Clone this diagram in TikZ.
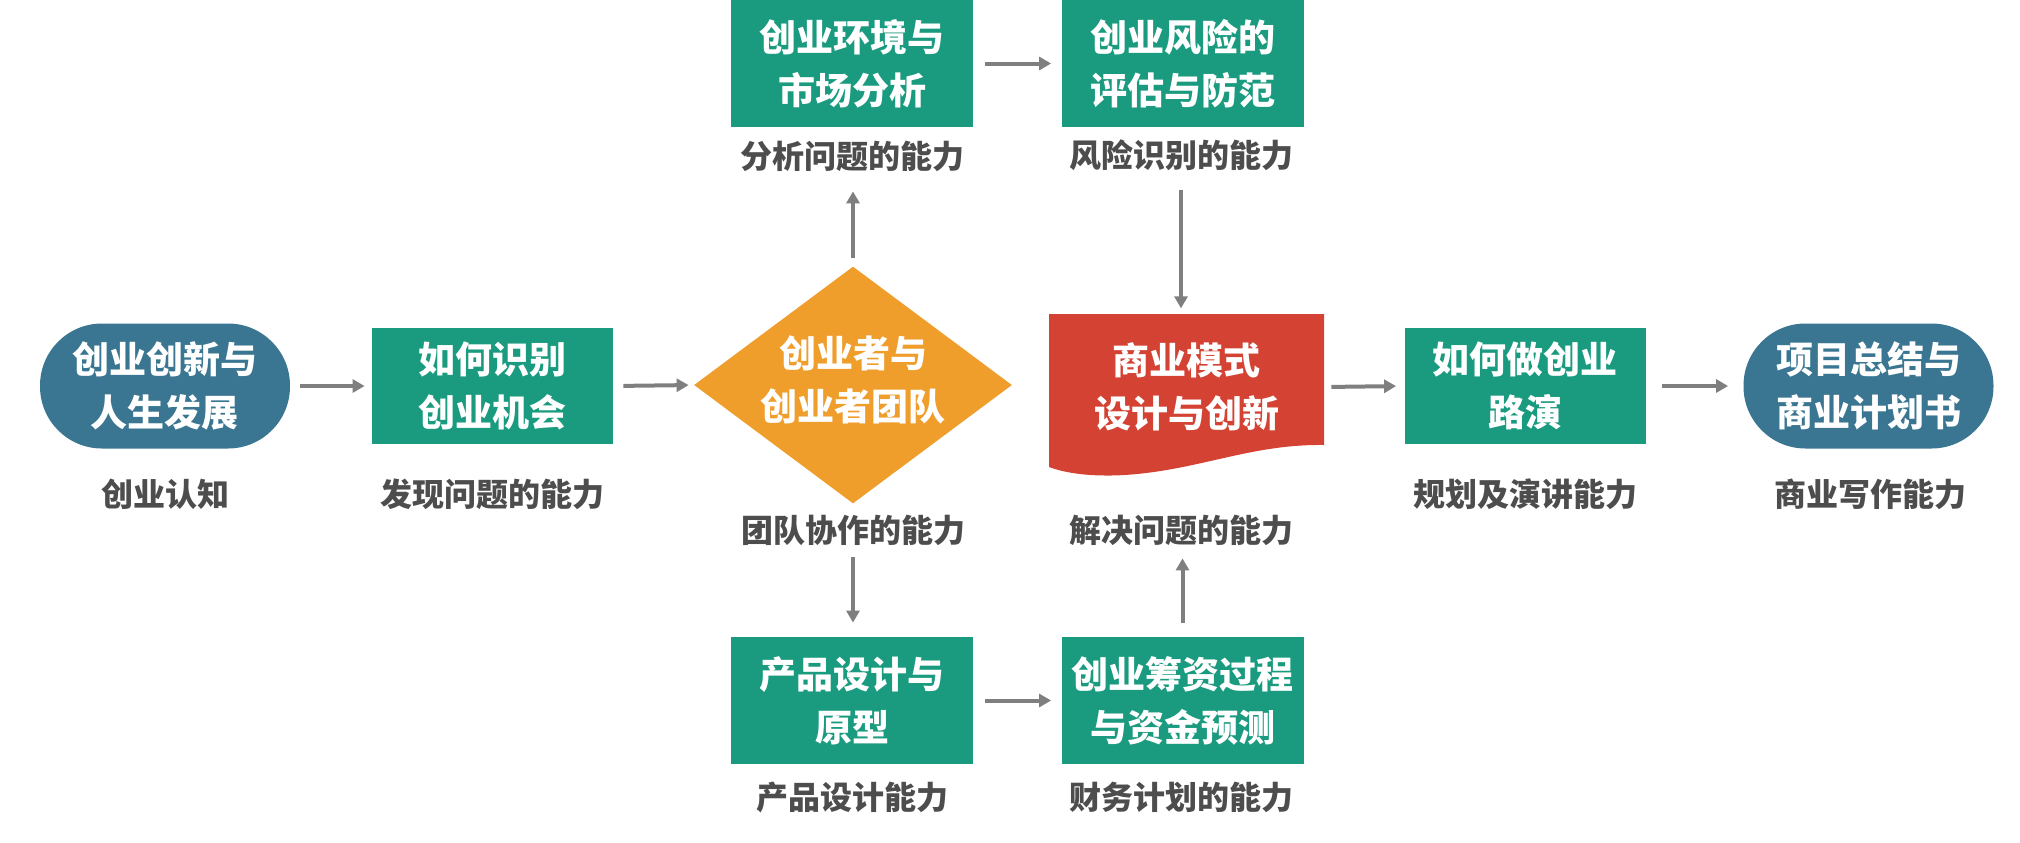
\documentclass[tikz,border=0pt]{standalone}
\usepackage{fontspec}
\setmainfont{Noto Sans CJK SC}
\usetikzlibrary{shapes.geometric,arrows.meta}
\definecolor{tealc}{HTML}{1A9B7F}
\definecolor{bluec}{HTML}{3A7691}
\definecolor{orangec}{HTML}{EF9E2C}
\definecolor{redc}{HTML}{D44234}
\definecolor{graytxt}{HTML}{4D4D4D}
\definecolor{arrowc}{HTML}{7F7F7F}
\begin{document}
\begin{tikzpicture}[x=0.5pt,y=-0.5pt,
 boxt/.style={text=white,font=\bfseries\fontsize{18.5pt}{26.5pt}\selectfont,align=center,inner sep=0pt},
 gbox/.style={boxt,fill=tealc,minimum width=121pt,minimum height=63.5pt},
 mbox/.style={boxt,fill=tealc,minimum width=120.5pt,minimum height=58pt},
 pill/.style={boxt,fill=bluec,minimum width=125pt,minimum height=62.5pt,rounded corners=31pt},
 lab/.style={text=graytxt,font=\bfseries\fontsize{16pt}{19pt}\selectfont,inner sep=0pt,text height=12.8pt,text depth=3.2pt},
 arr/.style={draw=arrowc,line width=2pt,-{Triangle[length=6pt,width=6.5pt]}},
]
\useasboundingbox (0,0) rectangle (2020,842);
% shapes
\node[pill] (p1) at (165,386) {创业创新与\\人生发展};
\node[mbox] (b1) at (492.5,386) {如何识别\\创业机会};
\node[diamond,fill=orangec,inner sep=0pt,minimum width=159pt,minimum height=118.5pt] (dia) at (853,385) {};
\node[boxt] (diat) at (853,380) {创业者与\\创业者团队};
\node[gbox] (t1) at (852,63.5) {创业环境与\\市场分析};
\node[gbox] (t2) at (1182.5,63.5) {创业风险的\\评估与防范};
\fill[redc] (1049,314) -- (1324,314) -- (1324,445) .. controls (1250,444) and (1200,470) .. (1125,475) .. controls (1090,477) and (1065,473) .. (1049,467) -- cycle;
\node[boxt,minimum width=137.5pt] (bm) at (1186.5,387) {商业模式\\设计与创新};
\node[mbox] (b4) at (1525,386) {如何做创业\\路演};
\node[pill] (p2) at (1868.5,386) {项目总结与\\商业计划书};
\node[gbox] (u1) at (852,700.5) {产品设计与\\原型};
\node[gbox] (u2) at (1182.5,700.5) {创业筹资过程\\与资金预测};
% labels
\node[lab] (l1) at (165,497) {创业认知};
\node[lab] (l2) at (492,497) {发现问题的能力};
\node[lab] (l3) at (852,159) {分析问题的能力};
\node[lab] (l4) at (1181,158) {风险识别的能力};
\node[lab] (l5) at (853,533) {团队协作的能力};
\node[lab] (l6) at (1181,533) {解决问题的能力};
\node[lab] (l7) at (1525,497) {规划及演讲能力};
\node[lab] (l8) at (1870,497) {商业写作能力};
\node[lab] (l9) at (852,800) {产品设计能力};
\node[lab] (l10) at (1181,800) {财务计划的能力};
% arrows
\draw[arr,shorten <=5pt,shorten >=3.5pt] (p1.east) -- (b1.west);
\draw[arr,shorten <=5pt,shorten >=2.5pt] (b1.east) -- (dia.west);
\draw[arr,shorten <=4pt,shorten >=8pt] (dia.north) -- (dia.north |- l3.south);
\draw[arr,shorten <=6pt,shorten >=5pt] (t1.east) -- (t2.west);
\draw[arr,shorten <=8pt,shorten >=17pt] (l4.south) -- (l4.south |- bm.north);
\draw[arr,shorten <=4pt,shorten >=7pt] (l5.south) -- (l5.south |- u1.north);
\draw[arr,shorten <=6pt,shorten >=5pt] (u1.east) -- (u2.west);
\draw[arr,shorten <=7pt,shorten >=4.5pt] (u2.north) -- (u2.north |- l6.south);
\draw[arr,shorten <=3.5pt,shorten >=4pt] (bm.east) -- (b4.west);
\draw[arr,shorten <=8pt,shorten >=7.5pt] (b4.east) -- (p2.west);
\end{tikzpicture}
\end{document}
